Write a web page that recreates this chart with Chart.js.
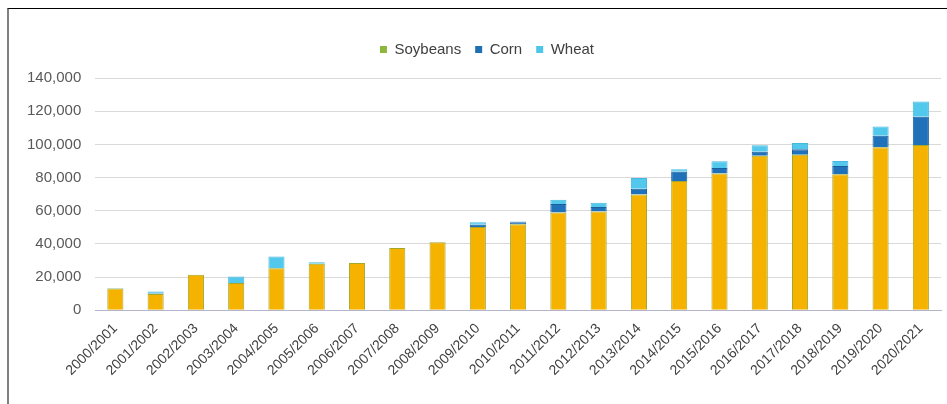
<!DOCTYPE html>
<html>
<head>
<meta charset="utf-8">
<script src="https://cdn.jsdelivr.net/npm/chart.js@4"></script>
<style>
  html, body { margin: 0; padding: 0; background: #fff; }
  #frame {
    position: absolute; left: 7px; top: 8px; width: 940px; height: 396px;
    border-top: 1.5px solid #000; border-left: 2px solid #808080; box-sizing: border-box;
  }
  #wrap { position: absolute; left: 0; top: 0; right: 0; bottom: 0; }
</style>
</head>
<body>
<div id="frame"><div id="wrap"><canvas id="chart"></canvas></div></div>
<script>
const seasons = ['2000/2001', '2001/2002', '2002/2003', '2003/2004', '2004/2005', '2005/2006', '2006/2007',
  '2007/2008', '2008/2009', '2009/2010', '2010/2011', '2011/2012', '2012/2013', '2013/2014', '2014/2015',
  '2015/2016', '2016/2017', '2017/2018', '2018/2019', '2019/2020', '2020/2021'];
const soybeans = [13200, 9800, 21400, 16400, 25300, 28000, 28500, 37500, 41000, 50200, 51800, 59000,
  59500, 69800, 78000, 82500, 93200, 93800, 82000, 98200, 99700];
const corn = [0, 300, 0, 0, 0, 0, 0, 0, 0, 1300, 1200, 5000, 2800, 3500, 5500, 3300, 2300, 3300, 5000, 7000, 17000];
const wheat = [300, 1300, 0, 4000, 7200, 900, 0, 0, 0, 1500, 500, 2700, 2500, 6500, 1500, 4000, 4000, 3800, 3000, 5500, 9200];
const yTicks = [0, 20000, 40000, 60000, 80000, 100000, 120000, 140000];

const legendColors = ['#8DB63C', '#1F6FB5', '#4DC6EA'];

// extra space under the legend, and nudge it right like the original
const legendTweak = {
  id: 'legendTweak',
  beforeInit(chart) {
    const fit = chart.legend.fit;
    chart.legend.fit = function () { fit.call(this); this.height += 11; };
  },
  afterLayout(chart) {
    chart.legend.left += 10;
    chart.legend.right += 10;
  },
};

new Chart(document.getElementById('chart'), {
  type: 'bar',
  plugins: [legendTweak],
  data: {
    labels: seasons,
    datasets: [
      { label: 'Soybeans', data: soybeans, backgroundColor: '#F5B300', borderColor: '#A3A82A', borderWidth: 1 },
      { label: 'Corn', data: corn, backgroundColor: '#1F72BA', borderColor: '#1A5E9A', borderWidth: 1 },
      { label: 'Wheat', data: wheat, backgroundColor: '#52C8EC', borderColor: '#45B8DE', borderWidth: 1 },
    ],
  },
  options: {
    responsive: true,
    maintainAspectRatio: false,
    animation: false,
    datasets: { bar: { categoryPercentage: 0.8, barPercentage: 0.5 } },
    layout: { padding: { top: 19, right: 6, left: 4, bottom: 23 } },
    plugins: {
      tooltip: { enabled: false },
      legend: {
        position: 'top',
        labels: {
          font: { family: 'Liberation Sans', size: 15 },
          color: '#404040',
          boxWidth: 7,
          boxHeight: 7,
          padding: 14,
          generateLabels: (chart) => chart.data.datasets.map((ds, i) => ({
            text: ds.label, fillStyle: legendColors[i], strokeStyle: legendColors[i],
            lineWidth: 0, datasetIndex: i, fontColor: '#404040',
          })),
        },
      },
    },
    scales: {
      x: {
        stacked: true,
        grid: { display: false },
        border: { color: '#b4b4c8', width: 1 },
        ticks: {
          minRotation: 45, maxRotation: 45, autoSkip: false,
          font: { family: 'Liberation Sans', size: 14 }, color: '#404040', padding: 2,
        },
      },
      y: {
        stacked: true,
        min: 0, max: 140000,
        afterBuildTicks: (axis) => { axis.ticks = yTicks.map(v => ({ value: v })); },
        grid: { color: '#d9d9d9', drawTicks: false },
        border: { display: false },
        ticks: {
          font: { family: 'Liberation Sans', size: 15 }, color: '#595959', padding: 14,
          callback: (v) => v.toLocaleString('en-US'),
        },
      },
    },
  },
});
</script>
</body>
</html>
